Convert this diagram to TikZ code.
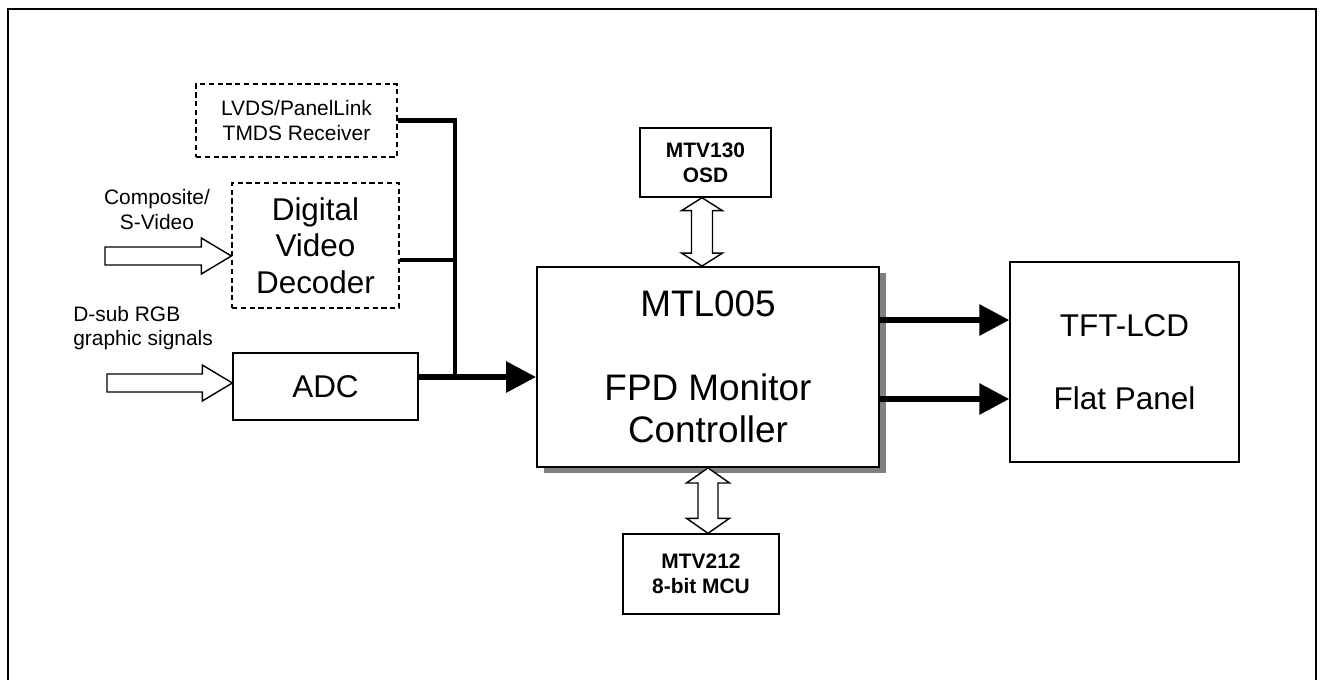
\documentclass[tikz,border=0pt]{standalone}
\usepackage{fontspec}
\setmainfont{Liberation Sans}
\usetikzlibrary{arrows.meta,calc,shadows}

\tikzset{
  box/.style={draw, line width=0.8pt, align=center, inner sep=0pt, fill=white},
  dashbox/.style={box, dash pattern=on 3pt off 2pt},
  small/.style={font=\fontsize{11.9}{14}\selectfont},
  smallbold/.style={font=\fontsize{11.9}{14}\selectfont\bfseries},
  big/.style={font=\fontsize{17.9}{20.7}\selectfont},
  huge/.style={font=\fontsize{21}{24}\selectfont},
  bus/.style={line width=2.7pt},
  feed/.style={line width=3.4pt, -{Triangle[length=17pt,width=17pt]}},
  hollow/.style={draw, line width=0.8pt, fill=white},
}

\begin{document}
\begin{tikzpicture}[x=0.02cm, y=-0.02cm]
  \useasboundingbox (0,0) rectangle (1320,680);
  \draw[line width=1.3pt] (8,680) |- (1316,9) -- (1316,680);

  \node[dashbox, small, minimum width=4.02cm, minimum height=1.46cm] (lvds) at (296.5,120.5) {LVDS/PanelLink\\TMDS Receiver};
  \node[dashbox, big, minimum width=3.34cm, minimum height=2.5cm] (dvd) at (315.5,245.5) {Digital\\Video\\Decoder};
  \node[box, big, minimum width=3.7cm, minimum height=1.34cm] (adc) at (325.5,386.5) {ADC};
  \node[box, huge, line width=1.1pt, minimum width=6.84cm, minimum height=4cm,
        general shadow={fill=black!50, shadow xshift=4pt, shadow yshift=-3.2pt}] (mtl) at (708,367)
        {MTL005\\[24pt]FPD Monitor\\Controller};
  \node[box, smallbold, minimum width=2.62cm, minimum height=1.38cm] (osd) at (705.5,162.5) {MTV130\\OSD};
  \node[box, smallbold, minimum width=3.12cm, minimum height=1.6cm] (mcu) at (701,574) {MTV212\\8-bit MCU};
  \node[box, big, minimum width=4.58cm, minimum height=4cm] (tft) at (1124.5,362) {TFT-LCD\\[20.7pt]Flat Panel};

  \node[small, align=center, inner sep=0pt] (cvlabel) at (157,209.5) {Composite/\\S-Video};
  \node[small, align=left, anchor=west, inner sep=0pt] (rgblabel) at (73,328) {D-sub RGB\\graphic signals};

  \coordinate (cvin) at (105,256);
  \coordinate (rgbin) at (107,383);
  \draw[hollow] (cvin) ++(0,-9) -| ($(dvd.west |- cvin)+(-30,-18)$) -- (dvd.west |- cvin)
    -- ++(-30,18) |- ($(cvin)+(0,9)$) -- cycle;
  \draw[hollow] (rgbin) ++(0,-9) -| ($(adc.west |- rgbin)+(-30,-18)$) -- (adc.west |- rgbin)
    -- ++(-30,18) |- ($(rgbin)+(0,9)$) -- cycle;

  \coordinate (join) at (455,377);
  \coordinate (dvdout) at ([yshift=-0.29cm]dvd.east);
  \coordinate (adcout) at ([yshift=0.19cm]adc.east);
  \draw[bus] (lvds.east) -| (join);
  \draw[bus] (dvdout) -- (dvdout -| join);
  \draw[feed] (adcout) -- (adcout -| mtl.west);

  \coordinate (lcdA) at ([yshift=0.94cm]mtl.east);
  \coordinate (lcdB) at ([yshift=-0.64cm]mtl.east);
  \draw[feed] (lcdA) -- (lcdA -| tft.west);
  \draw[feed] (lcdB) -- (lcdB -| tft.west);

  \coordinate (osdx) at (702,0);
  \coordinate (mcux) at (708,0);
  \coordinate (osdtip) at (osd.south -| osdx);
  \coordinate (mtltop) at (mtl.north -| osdx);
  \draw[hollow] (osdtip) -- ++(20.5,13) -- ++(-10,0) -- ($(mtltop)+(10.5,-13)$) -- ++(10,0) -- (mtltop)
    -- ++(-20.5,-13) -- ++(10,0) -- ($(osdtip)+(-10.5,13)$) -- ++(-10,0) -- cycle;
  \coordinate (mtlbot) at (mtl.south -| mcux);
  \coordinate (mcutip) at (mcu.north -| mcux);
  \draw[hollow] (mtlbot) -- ++(21.5,15) -- ++(-11.5,0) -- ($(mcutip)+(10,-15)$) -- ++(11.5,0) -- (mcutip)
    -- ++(-21.5,-15) -- ++(11.5,0) -- ($(mtlbot)+(-10,15)$) -- ++(-11.5,0) -- cycle;
\end{tikzpicture}
\end{document}
